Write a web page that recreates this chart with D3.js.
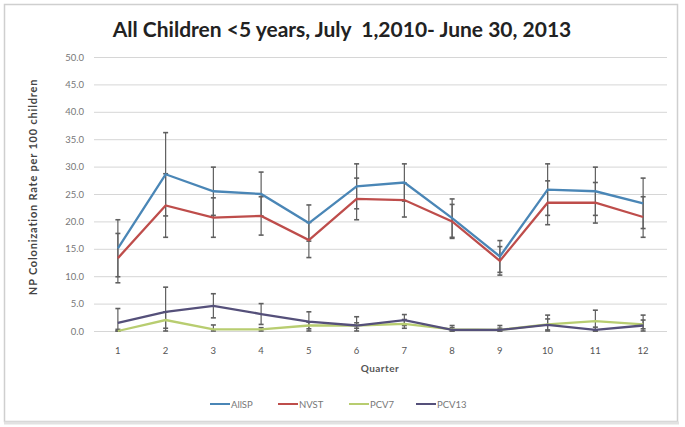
<!DOCTYPE html>
<html>
<head>
<meta charset="utf-8">
<script src="https://cdn.jsdelivr.net/npm/d3@7"></script>
<style>
  body { margin: 0; background: #fff; }
  svg { font-family: Lato, "Open Sans", sans-serif; }
  .grid line { stroke: #d6d6d6; }
  .grid .domain { display: none; }
</style>
</head>
<body>
<div id="chart"></div>
<script>
// Data
const quarters = ["1", "2", "3", "4", "5", "6", "7", "8", "9", "10", "11", "12"];
const seriesNames = ["AllSP", "NVST", "PCV7", "PCV13"];
const allsp = [15.1, 28.6, 25.5, 25.0, 19.7, 26.4, 27.1, 20.6, 13.6, 25.8, 25.5, 23.3];
const allspErr = [5.2, 7.6, 4.4, 4.0, 3.3, 4.1, 3.4, 3.5, 2.9, 4.7, 4.4, 4.6];
const nvst = [13.3, 22.9, 20.7, 21.0, 16.6, 24.1, 23.9, 20.0, 12.8, 23.4, 23.4, 20.8];
const nvstErr = [4.5, 5.8, 3.6, 3.5, 3.2, 3.8, 3.1, 3.1, 2.6, 4.0, 3.7, 3.7];
const pcv7 = [0.0, 2.0, 0.3, 0.3, 1.0, 1.0, 1.3, 0.3, 0.2, 1.2, 1.8, 1.2];
const pcv7Err = [0.3, 1.5, 0.8, 0.3, 0.6, 0.5, 0.8, 0.3, 0.3, 1.0, 2.0, 0.8];
const pcv13 = [1.5, 3.5, 4.6, 3.1, 1.7, 1.0, 2.0, 0.2, 0.2, 1.1, 0.2, 1.0];
const pcv13Err = [2.6, 4.5, 2.2, 1.9, 1.8, 1.6, 1.0, 0.8, 0.8, 1.8, 0.5, 1.9];
const yTicks = [0, 5, 10, 15, 20, 25, 30, 35, 40, 45, 50];

const colors = ["#4a86b6", "#be4d4b", "#b8cd70", "#55507a"];
const series = [
  { name: seriesNames[0], values: allsp, err: allspErr, color: colors[0] },
  { name: seriesNames[1], values: nvst, err: nvstErr, color: colors[1] },
  { name: seriesNames[2], values: pcv7, err: pcv7Err, color: colors[2] },
  { name: seriesNames[3], values: pcv13, err: pcv13Err, color: colors[3] }
];

const width = 685, height = 427;
const plot = { left: 94, right: 667, top: 57, bottom: 331 };

const svg = d3.select("#chart").append("svg")
  .attr("width", width)
  .attr("height", height);

// frame
svg.append("rect")
  .attr("x", 4.5).attr("y", 4.5)
  .attr("width", 673).attr("height", 417)
  .attr("fill", "#fff")
  .attr("stroke", "#cfcfcf")
  .attr("stroke-width", 1.5);
svg.append("line")
  .attr("x1", 4).attr("x2", 679).attr("y1", 423).attr("y2", 423)
  .attr("stroke", "#e2e2e2").attr("stroke-width", 3);

const x = d3.scaleBand().domain(quarters).range([plot.left, plot.right]);
const y = d3.scaleLinear().domain([0, 50]).range([plot.bottom, plot.top]);
const cx = q => x(q) + x.bandwidth() / 2;

// grid
svg.append("g")
  .attr("class", "grid")
  .attr("transform", `translate(${plot.left},0)`)
  .call(d3.axisLeft(y).tickValues(yTicks).tickSize(-(plot.right - plot.left)).tickFormat(""));

// y tick labels
svg.append("g")
  .selectAll("text")
  .data(yTicks)
  .enter().append("text")
  .attr("x", 84)
  .attr("y", d => y(d) + 3.5)
  .attr("text-anchor", "end")
  .attr("font-size", 9.5)
  .attr("fill", "#777")
  .text(d => d3.format(".1f")(d));

// x tick labels
svg.append("g")
  .selectAll("text")
  .data(quarters)
  .enter().append("text")
  .attr("x", d => cx(d))
  .attr("y", 354)
  .attr("text-anchor", "middle")
  .attr("font-size", 9.5)
  .attr("fill", "#555")
  .text(d => d);

// axis titles
svg.append("text")
  .attr("x", 380).attr("y", 372)
  .attr("text-anchor", "middle")
  .attr("font-size", 10)
  .attr("font-weight", "bold")
  .attr("letter-spacing", 0.5)
  .attr("fill", "#555")
  .text("Quarter");

svg.append("text")
  .attr("transform", "translate(37,187) rotate(-90)")
  .attr("text-anchor", "middle")
  .attr("font-size", 11)
  .attr("font-weight", "bold")
  .attr("letter-spacing", 0.8)
  .attr("fill", "#444")
  .text("NP Colonization Rate per 100 children");

// title
svg.append("text")
  .attr("x", 342).attr("y", 37)
  .attr("text-anchor", "middle")
  .attr("font-size", 21)
  .attr("font-weight", "bold")
  .attr("fill", "#222")
  .style("white-space", "pre")
  .text("All Children <5 years, July  1,2010- June 30, 2013");

// error bars
series.forEach(s => {
  const g = svg.append("g");
  const rows = quarters.map((q, i) => ({ q, v: s.values[i], e: s.err[i] }));
  g.selectAll("line.bar")
    .data(rows)
    .enter().append("line")
    .attr("x1", d => cx(d.q)).attr("x2", d => cx(d.q))
    .attr("y1", d => y(Math.max(0, d.v - d.e)))
    .attr("y2", d => y(d.v + d.e))
    .attr("stroke", "#5f5f5f").attr("stroke-width", 1.2);
  [d => d.v + d.e, d => Math.max(0, d.v - d.e)].forEach(f => {
    g.selectAll(null)
      .data(rows)
      .enter().append("line")
      .attr("x1", d => cx(d.q) - 2.5).attr("x2", d => cx(d.q) + 2.5)
      .attr("y1", d => y(f(d))).attr("y2", d => y(f(d)))
      .attr("stroke", "#5f5f5f").attr("stroke-width", 1.6);
  });
});

// lines
const line = d3.line()
  .x((d, i) => cx(quarters[i]))
  .y(d => y(d));

series.forEach(s => {
  svg.append("path")
    .datum(s.values)
    .attr("fill", "none")
    .attr("stroke", s.color)
    .attr("stroke-width", 2.3)
    .attr("d", line);
});

// legend
const legendX = [210, 278, 349, 416];
series.forEach((s, i) => {
  svg.append("line")
    .attr("x1", legendX[i]).attr("x2", legendX[i] + 20)
    .attr("y1", 404).attr("y2", 404)
    .attr("stroke", s.color).attr("stroke-width", 2);
  svg.append("text")
    .attr("x", legendX[i] + 21).attr("y", 407.5)
    .attr("font-size", 9.5)
    .attr("fill", "#777")
    .text(s.name);
});
</script>
</body>
</html>
